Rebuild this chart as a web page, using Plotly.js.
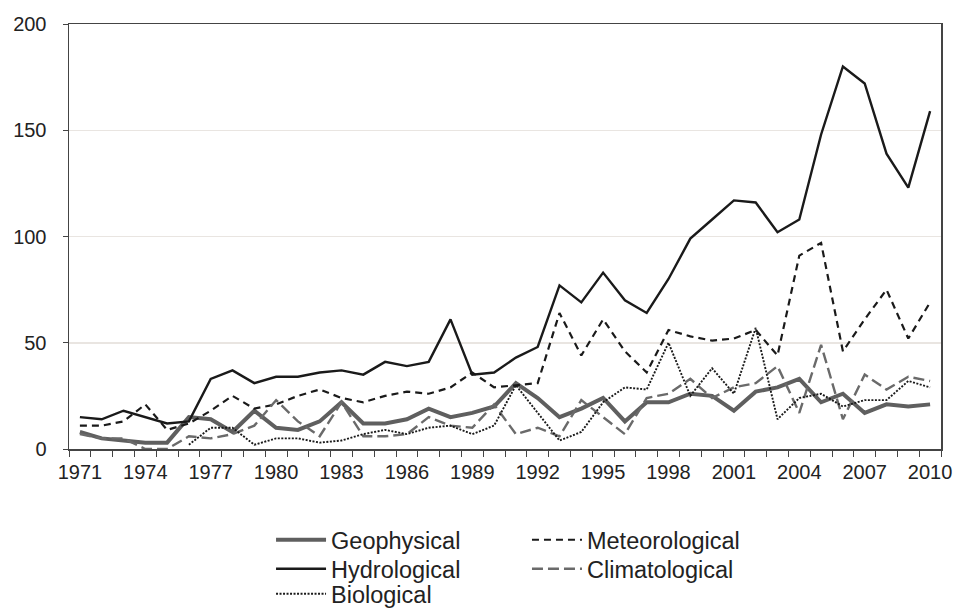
<!DOCTYPE html>
<html>
<head>
<meta charset="utf-8">
<script src="https://cdn.plot.ly/plotly-3.0.1.min.js"></script>
<style>html,body{margin:0;padding:0;background:#fff;}#chart{width:954px;height:608px;}</style>
</head>
<body>
<div id="chart"></div>
<script>
var years = [];
for (var yr = 1971; yr <= 2010; yr++) years.push(yr);

var geophysical = [8, 5, 4, 3, 3, 15, 14, 8, 18, 10, 9, 13, 22, 12, 12, 14, 19, 15, 17, 20,
  31, 24, 15, 19, 24, 13, 22, 22, 26, 25, 18, 27, 29, 33, 22, 26, 17, 21, 20, 21];
var hydrological = [15, 14, 18, 15, 12, 13, 33, 37, 31, 34, 34, 36, 37, 35, 41, 39, 41, 61, 35, 36,
  43, 48, 77, 69, 83, 70, 64, 80, 99, 108, 117, 116, 102, 108, 148, 180, 172, 139, 123, 159];
var meteorological = [11, 11, 13, 21, 9, 12, 18, 25, 19, 21, 25, 28, 24, 22, 25, 27, 26, 29, 36, 29,
  30, 31, 64, 44, 61, 46, 36, 56, 53, 51, 52, 56, 44, 91, 97, 46, 61, 75, 52, 69];
var climatological = [7, 5, 5, 0, 0, 6, 5, 7, 11, 23, 13, 6, 22, 6, 6, 7, 15, 11, 10, 21,
  7, 10, 6, 23, 15, 7, 24, 26, 33, 24, 29, 31, 39, 17, 49, 14, 35, 28, 34, 32];
var biological = [null, null, null, null, null, 2, 10, 10, 2, 5, 5, 3, 4, 7, 9, 7, 10, 11, 7, 11,
  30, 17, 4, 8, 22, 29, 28, 50, 25, 38, 26, 57, 14, 24, 26, 20, 23, 23, 32, 29];

var traces = [
  {x: years, y: geophysical, name: 'Geophysical', mode: 'lines', type: 'scatter',
   line: {color: '#5f5f5f', width: 4}, legend: 'legend'},
  {x: years, y: meteorological, name: 'Meteorological', mode: 'lines', type: 'scatter',
   line: {color: '#1a1a1a', width: 2.2, dash: '7px,5px'}, legend: 'legend2'},
  {x: years, y: hydrological, name: 'Hydrological', mode: 'lines', type: 'scatter',
   line: {color: '#1a1a1a', width: 2.4}, legend: 'legend3'},
  {x: years, y: climatological, name: 'Climatological', mode: 'lines', type: 'scatter',
   line: {color: '#6a6a6a', width: 2.4, dash: '11px,5px'}, legend: 'legend4'},
  {x: years, y: biological, name: 'Biological', mode: 'lines', type: 'scatter',
   line: {color: '#1a1a1a', width: 1.9, dash: '2px,1.5px'}, legend: 'legend5'}
];

var fontFam = '"Liberation Sans", Arial, sans-serif';
function leg(x, y) {
  return {x: x, y: y, xanchor: 'left', yanchor: 'middle', orientation: 'v',
          font: {family: fontFam, size: 23.5, color: '#222222'}, itemwidth: 50,
          bgcolor: 'rgba(0,0,0,0)', borderwidth: 0};
}
var layout = {
  width: 954, height: 608,
  margin: {l: 69, r: 13, t: 24, b: 159, autoexpand: false},
  paper_bgcolor: '#ffffff', plot_bgcolor: '#ffffff',
  font: {family: fontFam, size: 20, color: '#222222'},
  xaxis: {
    range: [1970.5, 2010.5], tickmode: 'linear', tick0: 1971, dtick: 3,
    ticks: '', showgrid: false, zeroline: false,
    showline: true, linecolor: '#444444', linewidth: 1.5, mirror: true,
    ticklabelstandoff: 4,
    minor: {tickmode: 'linear', tick0: 1970.5, dtick: 1, ticks: 'outside', ticklen: 6,
            tickcolor: '#444444', tickwidth: 1, showgrid: false}
  },
  yaxis: {
    range: [0, 200], tickmode: 'linear', tick0: 0, dtick: 50,
    ticks: 'outside', ticklen: 5, tickcolor: '#444444',
    showgrid: true, gridcolor: '#e9e5e1', gridwidth: 1.5, zeroline: false,
    showline: true, linecolor: '#444444', linewidth: 1.5, mirror: true,
    ticklabelstandoff: 12
  },
  showlegend: true,
  legend: leg(0.2317, -0.2141),
  legend2: leg(0.5252, -0.2141),
  legend3: leg(0.2317, -0.2824),
  legend4: leg(0.5252, -0.2824),
  legend5: leg(0.2317, -0.3412)
};

Plotly.newPlot('chart', traces, layout, {displayModeBar: false, staticPlot: true});
</script>
</body>
</html>
